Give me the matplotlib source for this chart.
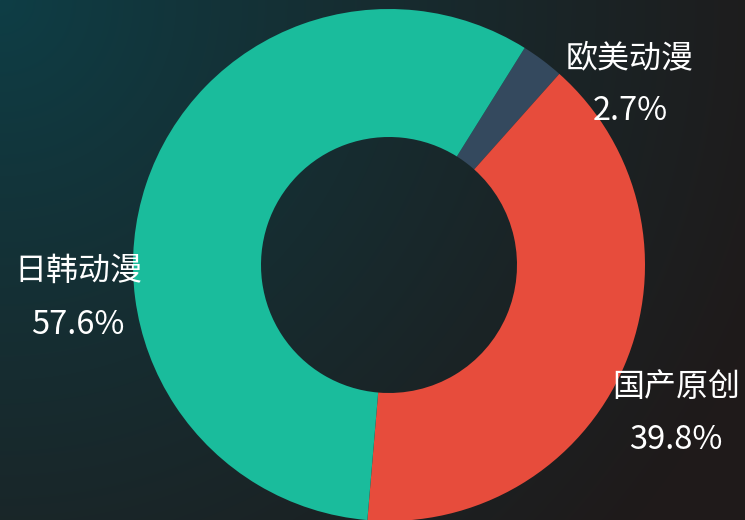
import numpy as np
import matplotlib
matplotlib.use("Agg")
import matplotlib.pyplot as plt

plt.rcParams['font.family'] = ['Noto Sans CJK SC', 'DejaVu Sans']

categories = ['欧美动漫', '国产原创', '日韩动漫']
values = [2.7, 39.8, 57.6]
colors = ['#34495e', '#e74c3c', '#1abc9c']
# label centres in pixels (x, y from top): name line, percent line
label_pos = [(630, 58, 111), (676, 387, 440), (78, 271, 325)]

W, H = 745, 520
fig = plt.figure(figsize=(W / 100, H / 100), dpi=100)

# background gradient
bg = fig.add_axes([0, 0, 1, 1])
yy, xx = np.mgrid[0:H, 0:W]
d = np.sqrt(xx ** 2 + (yy * 1.0) ** 2)
t = np.clip(d / 820.0, 0, 1) ** 0.9
c0 = np.array([0x0e, 0x3e, 0x46]) / 255.0
c1 = np.array([0x1f, 0x1a, 0x1a]) / 255.0
img = c0[None, None, :] * (1 - t[..., None]) + c1[None, None, :] * t[..., None]
bg.imshow(img, extent=[0, W, H, 0], aspect='auto')
bg.set_xlim(0, W)
bg.set_ylim(H, 0)
bg.axis('off')

cx, cy, R = 389, 265, 256
ax = fig.add_axes([0, 0, 1, 1])
ax.patch.set_alpha(0)
ax.pie(values, colors=colors, startangle=58, counterclock=False,
       radius=1.0, wedgeprops=dict(width=0.5, linewidth=0))
ax.set_xlim(-cx / R, (W - cx) / R)
ax.set_ylim(-(H - cy) / R, cy / R)
ax.set_aspect('auto')
ax.axis('off')

for name, v, (lx, ly1, ly2) in zip(categories, values, label_pos):
    fig.text(lx / W, 1 - ly1 / H, name, color='white', fontsize=23,
             ha='center', va='center')
    fig.text(lx / W, 1 - ly2 / H, f'{v:.1f}%', color='white', fontsize=23.5,
             ha='center', va='center')

fig.savefig('out.png', dpi=100)
